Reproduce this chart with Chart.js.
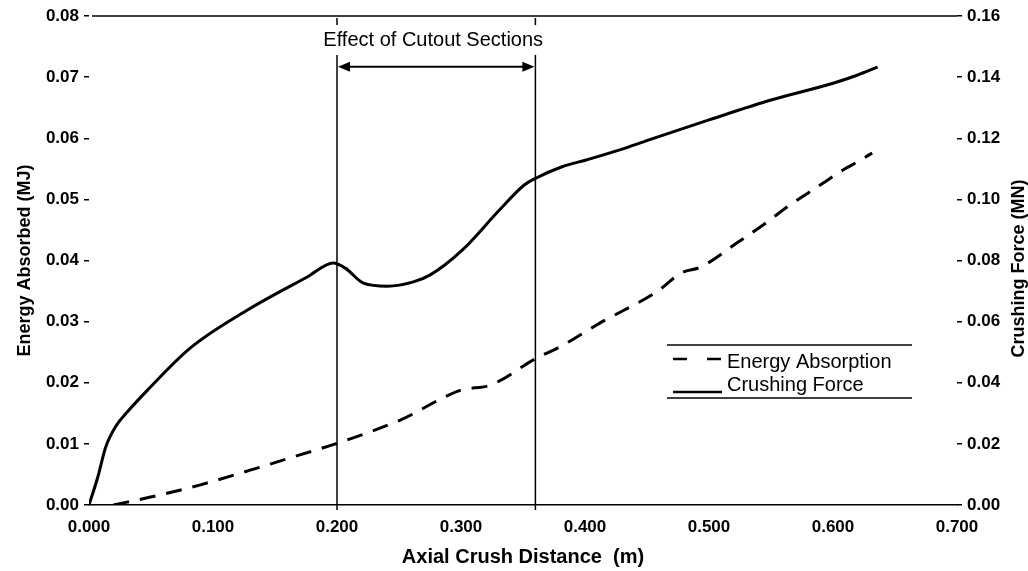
<!DOCTYPE html>
<html><head><meta charset="utf-8">
<script src="https://cdn.jsdelivr.net/npm/chart.js@4.4.1/dist/chart.umd.min.js"></script>
<style>html,body{margin:0;padding:0;background:#fff;overflow:hidden}#wrap{width:1028px;height:571px}</style>
</head><body><div id="wrap"><canvas id="c" width="1028" height="571"></canvas></div>
<script>
// ---- data ----
const crushX = [0, 0.007, 0.0135, 0.022, 0.031, 0.0472, 0.0818, 0.1278, 0.176, 0.197, 0.2067, 0.2213, 0.2406, 0.2616, 0.2752, 0.301, 0.331, 0.351, 0.3607, 0.381, 0.401, 0.428, 0.451, 0.500, 0.550, 0.600, 0.620, 0.636];
const crushForce = [0, 0.0090, 0.0190, 0.0260, 0.0305, 0.0376, 0.0514, 0.0638, 0.0746, 0.0792, 0.0775, 0.0726, 0.0716, 0.0730, 0.0753, 0.0834, 0.0965, 0.1047, 0.1070, 0.1106, 0.1129, 0.1162, 0.1194, 0.1260, 0.1325, 0.1380, 0.1407, 0.1433];
const energyX = [0.0197, 0.0496, 0.0899, 0.130, 0.170, 0.2003, 0.251, 0.300, 0.3236, 0.3607, 0.380, 0.4123, 0.458, 0.478, 0.493, 0.5227, 0.5436, 0.5654, 0.5872, 0.608, 0.622, 0.6316];
const energyAbsorbed = [0, 0.0013, 0.0033, 0.0057, 0.0082, 0.0101, 0.0139, 0.0188, 0.0196, 0.0240, 0.0259, 0.0298, 0.0349, 0.0380, 0.0389, 0.0429, 0.0458, 0.0491, 0.0520, 0.0548, 0.0564, 0.0576];
const xTickValues = [0, 0.1, 0.2, 0.3, 0.4, 0.5, 0.6, 0.7];
const xTickLabels = ['0.000','0.100','0.200','0.300','0.400','0.500','0.600','0.700'];
const leftTickValues = [0, 0.01, 0.02, 0.03, 0.04, 0.05, 0.06, 0.07, 0.08];
const leftTickLabels = ['0.00','0.01','0.02','0.03','0.04','0.05','0.06','0.07','0.08'];
const rightTickValues = [0, 0.02, 0.04, 0.06, 0.08, 0.10, 0.12, 0.14, 0.16];
const rightTickLabels = ['0.00','0.02','0.04','0.06','0.08','0.10','0.12','0.14','0.16'];
const seriesNames = ['Energy Absorption', 'Crushing Force'];
const xTitle = 'Axial Crush Distance  (m)';
const leftTitle = 'Energy Absorbed (MJ)';
const rightTitle = 'Crushing Force (MN)';
const cutoutRange = [0.2, 0.36];
const cutoutText = 'Effect of Cutout Sections';
const cutoutArrowLevel = 0.0717;   // on left axis
// ---- style ----
const FONT = '"Liberation Sans", Arial, sans-serif';
const toPts = (xs, ys) => xs.map((x, i) => ({x: x, y: ys[i]}));
const setTicks = (vals) => (s) => { s.ticks = vals.map(v => ({value: v})); };

const decorPlugin = {
  id: 'decor',
  afterDraw(chart) {
    const ctx = chart.ctx, ca = chart.chartArea;
    const xs = chart.scales.x, yl = chart.scales.yL;
    ctx.save();
    // top frame line
    ctx.strokeStyle = '#000'; ctx.lineWidth = 1.5;
    ctx.beginPath(); ctx.moveTo(ca.left + 3, ca.top); ctx.lineTo(ca.right, ca.top); ctx.stroke();
    // cutout vertical lines
    const x1 = xs.getPixelForValue(cutoutRange[0]);
    const x2 = xs.getPixelForValue(cutoutRange[1]);
    ctx.lineWidth = 1.5;
    [x1, x2].forEach(px => { ctx.beginPath(); ctx.moveTo(px, ca.top + 2); ctx.lineTo(px, ca.bottom + 5); ctx.stroke(); });
    // text with white background
    ctx.font = '20px ' + FONT;
    ctx.textAlign = 'center'; ctx.textBaseline = 'middle';
    const tw = ctx.measureText(cutoutText).width;
    const tx = (x1 + x2) / 2 - 3, ty = ca.top + 24;
    ctx.fillStyle = '#fff';
    ctx.fillRect(tx - tw / 2 - 4, ca.top + 9, tw + 8, 30);
    ctx.fillStyle = '#000';
    ctx.fillText(cutoutText, tx, ty);
    // double arrow
    const ay = yl.getPixelForValue(cutoutArrowLevel);
    ctx.lineWidth = 2;
    ctx.beginPath(); ctx.moveTo(x1 + 8, ay); ctx.lineTo(x2 - 8, ay); ctx.stroke();
    ctx.beginPath(); ctx.moveTo(x1 + 1, ay); ctx.lineTo(x1 + 13, ay - 5); ctx.lineTo(x1 + 13, ay + 5); ctx.closePath(); ctx.fill();
    ctx.beginPath(); ctx.moveTo(x2 - 1, ay); ctx.lineTo(x2 - 13, ay - 5); ctx.lineTo(x2 - 13, ay + 5); ctx.closePath(); ctx.fill();
    // right axis title (reading upward)
    ctx.save();
    ctx.translate(1019, (ca.top + ca.bottom) / 2 + 8);
    ctx.rotate(-Math.PI / 2);
    ctx.font = 'bold 18px ' + FONT;
    ctx.fillText(rightTitle, 0, 0);
    ctx.restore();
    // legend
    const lx0 = 667, lx1 = 912, ly0 = 345, ly1 = 398;
    ctx.lineWidth = 1.5;
    ctx.beginPath(); ctx.moveTo(lx0, ly0); ctx.lineTo(lx1, ly0); ctx.stroke();
    ctx.beginPath(); ctx.moveTo(lx0, ly1); ctx.lineTo(lx1, ly1); ctx.stroke();
    const items = [{ds: chart.data.datasets[0], sy: 359, ty: 362, dash: [14, 20]},
                   {ds: chart.data.datasets[1], sy: 392, ty: 385, dash: []}];
    ctx.font = '20px ' + FONT; ctx.textAlign = 'left'; ctx.textBaseline = 'middle';
    items.forEach(it => {
      ctx.setLineDash(it.dash); ctx.lineWidth = 2.5;
      ctx.beginPath(); ctx.moveTo(673, it.sy); ctx.lineTo(722, it.sy); ctx.stroke();
      ctx.setLineDash([]);
      ctx.fillText(it.ds.label, 727, it.ty);
    });
    ctx.restore();
  }
};

const tickFont = {family: FONT, size: 17, weight: 'bold'};
new Chart(document.getElementById('c'), {
  type: 'line',
  data: {
    datasets: [
      {label: seriesNames[0], data: toPts(energyX, energyAbsorbed), yAxisID: 'yL',
       borderColor: '#000', borderWidth: 3, borderDash: [16, 11], pointRadius: 0,
       cubicInterpolationMode: 'monotone', fill: false},
      {label: seriesNames[1], data: toPts(crushX, crushForce), yAxisID: 'yR',
       borderColor: '#000', borderWidth: 3, pointRadius: 0,
       cubicInterpolationMode: 'monotone', fill: false}
    ]
  },
  options: {
    responsive: false, animation: false, devicePixelRatio: 1,
    layout: {padding: {top: 16, left: 0, right: 0, bottom: 0}},
    plugins: {legend: {display: false}, tooltip: {enabled: false}},
    scales: {
      x: {type: 'linear', min: 0, max: 0.7, position: 'bottom',
          afterBuildTicks: setTicks(xTickValues),
          afterFit: s => { s.height = 66; },
          grid: {display: false, drawTicks: false},
          border: {display: true, color: '#000', width: 1.5},
          ticks: {color: '#000', font: tickFont, padding: 12, maxRotation: 0,
                  callback: (v, i) => xTickLabels[i]},
          title: {display: true, text: xTitle, color: '#000', font: {family: FONT, size: 20, weight: 'bold'},
                  padding: {top: 0, bottom: 2}}},
      yL: {type: 'linear', position: 'left', min: 0, max: 0.08,
           afterBuildTicks: setTicks(leftTickValues),
           afterFit: s => { s.width = 89; },
           grid: {drawOnChartArea: false, drawTicks: true, tickLength: 5, color: '#000', lineWidth: 1.5},
           border: {display: false},
           ticks: {color: '#000', font: tickFont, padding: 5,
                   callback: (v, i) => leftTickLabels[i]},
           title: {display: true, text: leftTitle, color: '#000', font: {family: FONT, size: 18, weight: 'bold'},
                   padding: {top: 14, bottom: 0}}},
      yR: {type: 'linear', position: 'right', min: 0, max: 0.16,
           afterBuildTicks: setTicks(rightTickValues),
           afterFit: s => { s.width = 71; },
           grid: {drawOnChartArea: false, drawTicks: true, tickLength: 5, color: '#000', lineWidth: 1.5},
           border: {display: false},
           ticks: {color: '#000', font: tickFont, padding: 5,
                   callback: (v, i) => rightTickLabels[i]}}
    }
  },
  plugins: [decorPlugin]
});
</script></body></html>
